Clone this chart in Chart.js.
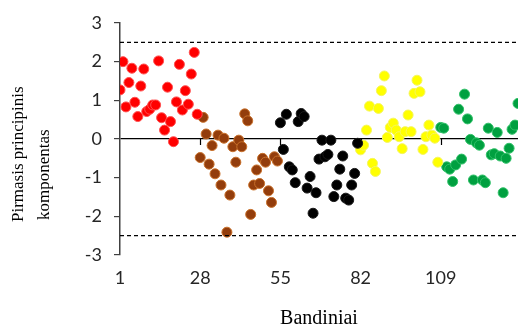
<!DOCTYPE html>
<html>
<head>
<meta charset="utf-8">
<script src="https://cdn.jsdelivr.net/npm/chart.js@4"></script>
<style>
  html, body { margin: 0; padding: 0; background: #fff; }
  #wrap { width: 524px; height: 327px; }
</style>
</head>
<body>
<div id="wrap"><canvas id="pcaChart" width="524" height="327"></canvas></div>
<script>
// sample groups (27 samples each), first sample number of each group
const groupStarts = [1, 28, 55, 82, 109];
const xTicks = [1, 28, 55, 82, 109];
const yTicks = [-3, -2, -1, 0, 1, 2, 3];
const limitLines = [2.5, -2.5];

// first principal component scores per group
const redScores = [1.27, 2.00, 0.83, 1.46, 1.83, 0.95, 0.58, 1.37, 1.81, 0.71, 0.77, 0.88, 0.88, 2.02,
    0.55, 0.23, 1.34, 0.45, -0.07, 0.96, 1.93, 0.75, 1.25, 0.90, 1.68, 2.24, 0.64];
const brownScores = [-0.48, 0.56, 0.13, -0.65, -0.17, -0.90, 0.10, -1.19, 0.02, -2.41, -1.45, -0.20, -0.60,
    -0.03, -0.20, 0.65, 0.47, -1.95, -1.19, -0.80, -1.15, -0.50, -0.60, -1.34, -1.64, -0.46, -0.57];
const blackScores = [0.42, -0.27, 0.64, -0.72, -0.80, -1.13, 0.45, 0.66, 0.58, -1.27, -0.97, -1.92, -1.39,
    -0.52, -0.03, -0.46, -0.40, -0.03, -1.49, -1.19, -0.78, -0.44, -1.53, -1.58, -1.19, -0.89, -0.11];
const yellowScores = [-0.28, -0.16, 0.23, 0.85, -0.63, -0.84, 0.79, 1.25, 1.63, 0.04, 0.30, 0.41, 0.23,
    0.06, -0.25, 0.19, 0.62, 0.19, 1.18, 1.52, 1.22, -0.27, 0.06, 0.36, 0.10, 0.02, -0.60];
const greenScores = [0.30, 0.28, -0.72, -0.78, -1.10, -0.67, 0.77, -0.52, 1.16, 0.52, -0.01, -1.06, -0.10,
    -0.16, -1.06, -1.13, 0.28, -0.41, -0.38, 0.17, -0.44, -1.39, -0.50, -0.24, 0.25, 0.36, 0.92];

const groupScores = [redScores, brownScores, blackScores, yellowScores, greenScores];
const groupFill = ['#ff0000', '#933d0c', '#000000', '#ffff00', '#00a040'];
const groupEdge = ['#ff5050', '#c8702a', '#1a1a1a', '#f5f560', '#30c068'];

function toPoints(scores, start) {
    return scores.map((v, i) => ({ x: start + i, y: v }));
}

const datasets = [];

// dashed limit lines
limitLines.forEach(v => {
    datasets.push({
        type: 'line',
        data: [{ x: 1, y: v }, { x: 135, y: v }],
        borderColor: '#000',
        borderWidth: 1.2,
        borderDash: [4, 3],
        pointRadius: 0,
        fill: false
    });
});

groupScores.forEach((scores, g) => {
    datasets.push({
        type: 'scatter',
        data: toPoints(scores, groupStarts[g]),
        backgroundColor: groupFill[g],
        borderColor: groupEdge[g],
        borderWidth: 1,
        pointRadius: 5,
        pointHoverRadius: 5
    });
});

// small ticks hanging under the zero line, plus the rotated y title
const axisExtras = {
    id: 'axisExtras',
    beforeDatasetsDraw(chart) {
        const ctx = chart.ctx;
        const x = chart.scales.x, y = chart.scales.y;
        const y0 = y.getPixelForValue(0);
        ctx.save();
        ctx.strokeStyle = '#000';
        ctx.lineWidth = 1.2;
        xTicks.slice(1).forEach(t => {
            const px = Math.round(x.getPixelForValue(t)) + 0.5;
            ctx.beginPath();
            ctx.moveTo(px, y0);
            ctx.lineTo(px, y0 + 6);
            ctx.stroke();
        });
        ctx.restore();
    },
    afterDraw(chart) {
        const ctx = chart.ctx;
        const area = chart.chartArea;
        ctx.save();
        ctx.fillStyle = '#000';
        ctx.font = '17px "Liberation Serif", "DejaVu Serif", serif';
        ctx.textAlign = 'left';
        ctx.textBaseline = 'alphabetic';
        ctx.translate(0, area.bottom - 33);
        ctx.rotate(-Math.PI / 2);
        ctx.fillText('Pirmasis principinis', 0, 23);
        ctx.fillText('komponentas', 2, 49);
        ctx.restore();
    }
};

new Chart(document.getElementById('pcaChart').getContext('2d'), {
    type: 'scatter',
    data: { datasets: datasets },
    options: {
        responsive: false,
        animation: false,
        layout: { padding: { top: 23, right: 0, bottom: 0, left: 0 } },
        plugins: {
            legend: { display: false },
            tooltip: { enabled: false }
        },
        scales: {
            x: {
                type: 'linear',
                min: 1,
                max: 135,
                afterBuildTicks(scale) {
                    scale.ticks = xTicks.map(v => ({ value: v }));
                },
                afterFit(scale) { scale.height = 72; },
                grid: { display: false },
                border: { display: false },
                ticks: {
                    padding: 4,
                    color: '#262626',
                    font: { family: 'Lato, "Open Sans", sans-serif', size: 18 },
                    maxRotation: 0
                },
                title: {
                    display: true,
                    text: 'Bandiniai',
                    color: '#000',
                    font: { family: '"Liberation Serif", serif', size: 20, lineHeight: 0.8 },
                    padding: { top: 0, bottom: 0 }
                }
            },
            y: {
                min: -3,
                max: 3,
                afterBuildTicks(scale) {
                    scale.ticks = yTicks.map(v => ({ value: v }));
                },
                afterFit(scale) { scale.width = 120; },
                grid: {
                    drawOnChartArea: true,
                    color: c => (c.tick && c.tick.value === 0) ? '#000' : 'rgba(0,0,0,0)',
                    lineWidth: 1.2,
                    tickColor: '#404040',
                    tickLength: 6
                },
                border: { display: true, color: '#404040', width: 1.5 },
                ticks: {
                    padding: 12,
                    color: '#262626',
                    font: { family: 'Lato, "Open Sans", sans-serif', size: 18 }
                }
            }
        }
    },
    plugins: [axisExtras]
});
</script>
</body>
</html>
